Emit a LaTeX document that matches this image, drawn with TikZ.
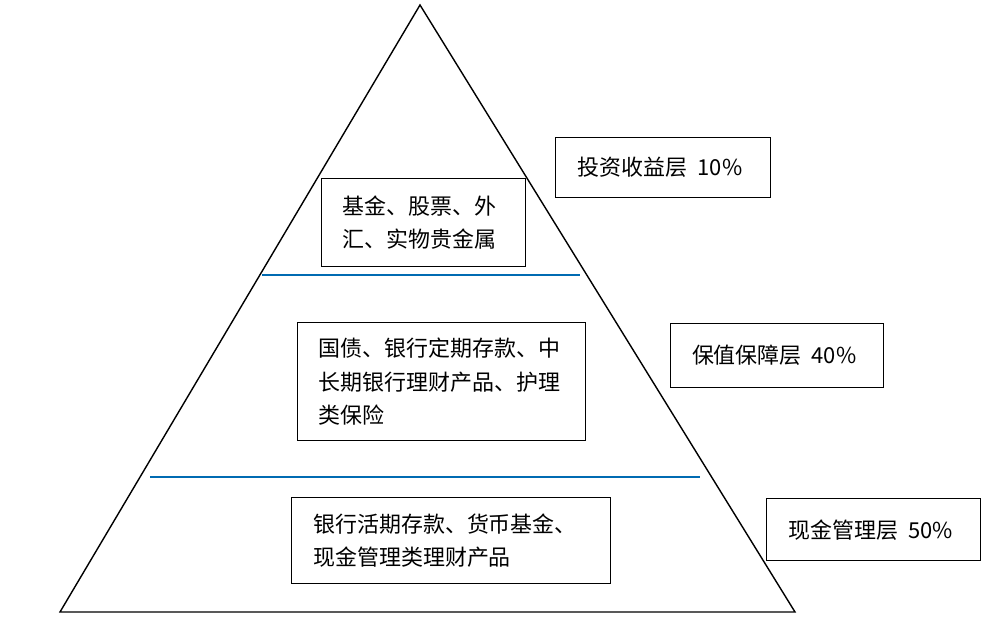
\documentclass[tikz,border=0pt]{standalone}
\usepackage{fontspec}
\setmainfont{Noto Sans CJK SC}
\usetikzlibrary{positioning}
\tikzset{
  infobox/.style={draw,thick,align=left,anchor=north west,inner sep=0pt,font=\fontsize{12.5}{19}\selectfont},
  layerbox/.style={draw,thick,anchor=north west,inner sep=0pt,font=\fontsize{12.5}{15}\selectfont},
  layerline/.style={draw=blue!40!cyan!70!black,thick}
}
\begin{document}
\begin{tikzpicture}[x=0.02cm,y=-0.02cm]
  \useasboundingbox (0,0) rectangle (1000,631);
  \coordinate (top) at (420,5);
  \coordinate (bl) at (60,612);
  \coordinate (br) at (795,612);
  \draw[thick] (top) -- (bl) -- (br) -- cycle;
  \draw[layerline] (262,275) -- (580,275);
  \draw[layerline] (150,477) -- (700,477);
  % contents
  \node[infobox,minimum width=204*0.02cm,minimum height=88*0.02cm] (fund) at (321,178) {\hspace{8pt}\parbox{100pt}{基金、股票、外\\汇、实物贵金属}};
  \node[infobox,minimum width=288*0.02cm,minimum height=118*0.02cm] (bond) at (297,322) {\hspace{8pt}\parbox{148pt}{国债、银行定期存款、中\\长期银行理财产品、护理\\类保险}};
  \node[infobox,minimum width=319*0.02cm,minimum height=86*0.02cm] (cash) at (291,497) {\hspace{8pt}\parbox{165pt}{银行活期存款、货币基金、\\现金管理类理财产品}};
  % layers
  \node[layerbox,minimum width=215*0.02cm,minimum height=60*0.02cm] (invest) at (555,137) {\hspace{8pt}\parbox{105pt}{投资收益层\ \ 10\%}};
  \node[layerbox,minimum width=213*0.02cm,minimum height=64*0.02cm] (keep) at (670,323) {\hspace{8pt}\parbox{105pt}{保值保障层\ \ 40\%}};
  \node[layerbox,minimum width=214*0.02cm,minimum height=62*0.02cm] (manage) at (766,498) {\hspace{8pt}\parbox{105pt}{现金管理层\ \ 50\%}};
\end{tikzpicture}
\end{document}
